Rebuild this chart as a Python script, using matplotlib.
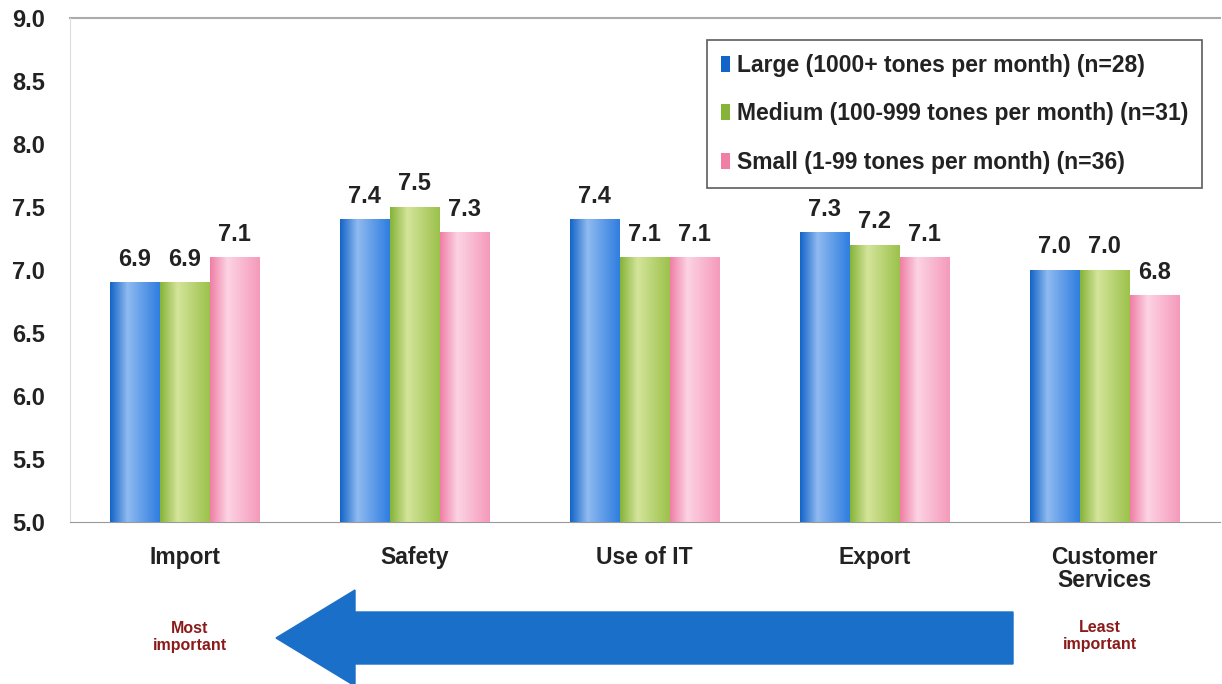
import matplotlib.pyplot as plt
import numpy as np
from matplotlib.colors import LinearSegmentedColormap
from matplotlib.patches import FancyArrow

plt.rcParams['font.family'] = ['Liberation Sans', 'DejaVu Sans']
plt.rcParams['font.weight'] = 'bold'

categories = ['Import', 'Safety', 'Use of IT', 'Export', 'Customer\nServices']
series_names = ['Large (1000+ tones per month) (n=28)',
                'Medium (100-999 tones per month) (n=31)',
                'Small (1-99 tones per month) (n=36)']
large = [6.9, 7.4, 7.4, 7.3, 7.0]
medium = [6.9, 7.5, 7.1, 7.2, 7.0]
small = [7.1, 7.3, 7.1, 7.1, 6.8]
y_ticks = [5.0, 5.5, 6.0, 6.5, 7.0, 7.5, 8.0, 8.5, 9.0]

# (dark edge, light highlight, right edge) for the cylinder shading
shades = [('#1565c8', '#8fbaf0', '#2f7ee0'),
          ('#86b43a', '#d4e49a', '#9cc24c'),
          ('#f07fa6', '#fcd3e3', '#f59abb')]

fig = plt.figure(figsize=(12.22, 6.84), dpi=100)
ax = fig.add_axes([0.057, 0.237, 0.941, 0.737])

x = np.arange(len(categories))
w = 0.218
for i, (vals, name, sh) in enumerate(zip([large, medium, small], series_names, shades)):
    cmap = LinearSegmentedColormap.from_list('c%d' % i, [(0, sh[0]), (0.35, sh[1]), (1, sh[2])])
    bars = ax.bar(x + (i - 1) * w, vals, w * 0.98, bottom=0, color=sh[0], label=name,
                  edgecolor='none', zorder=2)
    for b, v in zip(bars, vals):
        x0, x1 = b.get_x(), b.get_x() + b.get_width()
        grad = np.linspace(0, 1, 64).reshape(1, -1)
        im = ax.imshow(grad, cmap=cmap, extent=(x0, x1, 5.0, v), aspect='auto', zorder=3)
        im.set_clip_path(b)
        ax.text(b.get_x() + b.get_width() / 2, v + 0.09, '%.1f' % v, ha='center', va='bottom',
                fontsize=17, fontweight='bold', color='#222222', zorder=4)

ax.set_xlim(-0.5, len(categories) - 0.5)
ax.set_ylim(5.0, 9.0)
ax.set_yticks(y_ticks)
ax.set_yticklabels(['%.1f' % t for t in y_ticks], fontsize=17, fontweight='bold', color='#222222')
ax.set_xticks(x)
ax.set_xticklabels(categories, fontsize=16.5, fontweight='bold', color='#222222', linespacing=1.05)
ax.tick_params(axis='y', length=0, pad=18)
ax.tick_params(axis='x', length=0, pad=17)
for s in ['top', 'right']:
    ax.spines[s].set_visible(False)
ax.spines['left'].set_color('#dddddd')
ax.spines['bottom'].set_color('#999999')
ax.plot([-0.5, 4.5], [9.0, 9.0], color='#aaaaaa', lw=1.5, clip_on=False, zorder=1)

leg = ax.legend(loc='upper right', bbox_to_anchor=(1202 / 1222, 1 - 40 / 684),
                bbox_transform=fig.transFigure, fontsize=16.5, frameon=True,
                fancybox=False, edgecolor='#333333', handlelength=0.4, handleheight=0.7,
                handletextpad=0.3, labelspacing=1.12, borderpad=0.6, borderaxespad=0)
leg.get_frame().set_linewidth(1.2)
for t in leg.get_texts():
    t.set_color('#222222')

# importance arrow below the chart
fig.patches.append(FancyArrow(1013 / 1222, 1 - 638 / 684, -(1013 - 276) / 1222, 0,
                              width=52 / 684, head_width=96 / 684, head_length=79 / 1222,
                              length_includes_head=True, transform=fig.transFigure,
                              color='#1a6fc8', figure=fig))
fig.text(190 / 1222, 1 - 637 / 684, 'Most\nimportant', ha='center', va='center',
         fontsize=11.5, fontweight='bold', color='#8b1a1a', linespacing=1.2)
fig.text(1100 / 1222, 1 - 636 / 684, 'Least\nimportant', ha='center', va='center',
         fontsize=11.5, fontweight='bold', color='#8b1a1a', linespacing=1.2)

fig.savefig('out.png', dpi=100, facecolor='white')
